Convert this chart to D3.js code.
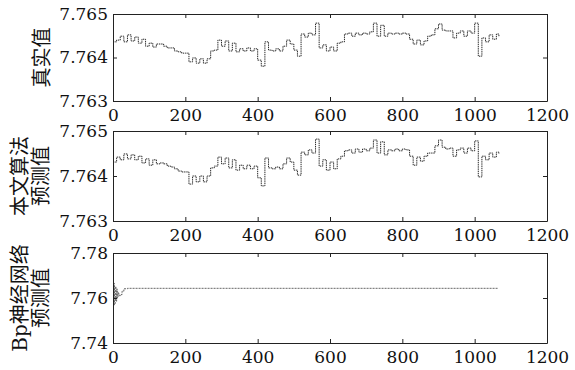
<!DOCTYPE html>
<html>
<head>
<meta charset="utf-8">
<script src="https://cdn.jsdelivr.net/npm/d3@7"></script>
<style>
  body { margin: 0; background: #fff; }
  svg text { font-family: "DejaVu Serif", "Noto Sans CJK SC", serif; }
</style>
</head>
<body>
<div id="chart"></div>
<script>
// x ticks shared by all three panels
const xTicks = [0, 200, 400, 600, 800, 1000, 1200];

// sample index of the values (every 10th point, plus the last one)
const sampleIdx = d3.range(0, 1070, 10).concat([1067]);

// 真实值 (real values)
const realVals = [
  7.76436, 7.76440, 7.76449, 7.76436, 7.76452, 7.76438, 7.76447, 7.76433, 7.76442, 7.76426,
  7.76433, 7.76424, 7.76431, 7.76431, 7.76426, 7.76422, 7.76422, 7.76415, 7.76413, 7.76410,
  7.76410, 7.76390, 7.76399, 7.76387, 7.76397, 7.76387, 7.76397, 7.76415, 7.76417, 7.76440,
  7.76426, 7.76438, 7.76415, 7.76433, 7.76413, 7.76420, 7.76415, 7.76422, 7.76415, 7.76420,
  7.76394, 7.76380, 7.76436, 7.76417, 7.76415, 7.76420, 7.76415, 7.76426, 7.76440, 7.76431,
  7.76417, 7.76403, 7.76454, 7.76447, 7.76456, 7.76452, 7.76479, 7.76422, 7.76429, 7.76415,
  7.76424, 7.76415, 7.76433, 7.76436, 7.76454, 7.76456, 7.76449, 7.76456, 7.76452, 7.76456,
  7.76454, 7.76459, 7.76479, 7.76449, 7.76474, 7.76449, 7.76456, 7.76454, 7.76456, 7.76454,
  7.76456, 7.76454, 7.76442, 7.76431, 7.76440, 7.76429, 7.76438, 7.76449, 7.76452, 7.76466,
  7.76477, 7.76463, 7.76461, 7.76461, 7.76445, 7.76456, 7.76461, 7.76449, 7.76461, 7.76456,
  7.76479, 7.76403, 7.76445, 7.76436, 7.76452, 7.76442, 7.76454, 7.76447
];

// 本文算法预测值 (proposed method prediction)
const oursVals = [
  7.76431, 7.76442, 7.76436, 7.76449, 7.76438, 7.76447, 7.76436, 7.76444, 7.76429, 7.76438,
  7.76424, 7.76436, 7.76427, 7.76429, 7.76427, 7.76422, 7.76420, 7.76416, 7.76411, 7.76409,
  7.76409, 7.76382, 7.76400, 7.76387, 7.76400, 7.76387, 7.76400, 7.76418, 7.76422, 7.76442,
  7.76427, 7.76440, 7.76418, 7.76436, 7.76413, 7.76424, 7.76416, 7.76424, 7.76416, 7.76422,
  7.76396, 7.76378, 7.76440, 7.76418, 7.76416, 7.76420, 7.76416, 7.76427, 7.76440, 7.76431,
  7.76413, 7.76402, 7.76453, 7.76447, 7.76458, 7.76451, 7.76482, 7.76422, 7.76436, 7.76413,
  7.76431, 7.76416, 7.76438, 7.76444, 7.76456, 7.76458, 7.76451, 7.76460, 7.76453, 7.76460,
  7.76456, 7.76462, 7.76480, 7.76451, 7.76476, 7.76447, 7.76458, 7.76456, 7.76460, 7.76456,
  7.76460, 7.76458, 7.76444, 7.76424, 7.76442, 7.76433, 7.76444, 7.76451, 7.76451, 7.76467,
  7.76480, 7.76464, 7.76460, 7.76462, 7.76444, 7.76458, 7.76462, 7.76451, 7.76462, 7.76456,
  7.76478, 7.76398, 7.76444, 7.76436, 7.76451, 7.76442, 7.76453, 7.76449
];

// Bp神经网络预测值 (BP network prediction)
const bpIdx = [0, 2, 4, 6, 8, 10, 12, 14, 16, 18, 20, 25, 30, 40, 100, 200, 300, 400, 500, 600, 700, 800, 900, 1000, 1064];
const bpVals = [7.7600, 7.7665, 7.7570, 7.7650, 7.7585, 7.7640, 7.7600, 7.7625, 7.7615, 7.7610, 7.7615, 7.7630, 7.7641,
  7.7643, 7.7643, 7.7643, 7.7643, 7.7643, 7.7643, 7.7643, 7.7643, 7.7643, 7.7643, 7.7643, 7.7643];

const realTicks = [7.763, 7.764, 7.765];
const bpTicks = [7.74, 7.76, 7.78];

const width = 575, height = 370;
const left = 113, right = 547;

const panels = [
  { top: 14, bottom: 101, domain: [7.763, 7.765], ticks: realTicks, fmt: '.3f',
    label: ['真实值'], labelX: [42], idx: sampleIdx, vals: realVals, stroke: '#111', dash: '1.4,0.8' },
  { top: 131, bottom: 221, domain: [7.763, 7.765], ticks: realTicks, fmt: '.3f',
    label: ['本文算法', '预测值'], labelX: [20, 41], idx: sampleIdx, vals: oursVals, stroke: '#111', dash: '1.4,0.8' },
  { top: 253, bottom: 343, domain: [7.74, 7.78], ticks: bpTicks, fmt: '.2f',
    label: ['Bp神经网络', '预测值'], labelX: [20, 41], idx: bpIdx, vals: bpVals, stroke: '#555', dash: '2,1' }
];

const svg = d3.select('#chart').append('svg')
  .attr('width', width)
  .attr('height', height)
  .style('background', '#fff');

const x = d3.scaleLinear().domain([0, 1200]).range([left, right]);

panels.forEach(p => {
  const y = d3.scaleLinear().domain(p.domain).range([p.bottom, p.top]);
  const g = svg.append('g');

  // series
  const line = d3.line()
    .x(d => x(d[0]))
    .y(d => y(d[1]))
    .curve(d3.curveStepAfter);

  g.append('path')
    .datum(p.idx.map((v, i) => [v, p.vals[i]]))
    .attr('fill', 'none')
    .attr('stroke', p.stroke)
    .attr('stroke-width', 0.9)
    .attr('stroke-dasharray', p.dash)
    .attr('d', line);

  const styleAxis = sel => {
    sel.select('.domain').attr('stroke', '#222');
    sel.selectAll('.tick line').attr('stroke', '#222');
    sel.selectAll('text').attr('fill', '#111').style('font-size', '17px');
  };

  // box with inward ticks
  g.append('g')
    .attr('transform', `translate(0,${p.bottom})`)
    .call(d3.axisBottom(x).tickValues(xTicks).tickFormat(d3.format('d'))
      .tickSizeInner(-4).tickSizeOuter(0).tickPadding(8))
    .call(styleAxis);

  g.append('g')
    .attr('transform', `translate(0,${p.top})`)
    .call(d3.axisTop(x).tickValues(xTicks).tickFormat('')
      .tickSizeInner(-4).tickSizeOuter(0))
    .call(styleAxis);

  g.append('g')
    .attr('transform', `translate(${left},0)`)
    .call(d3.axisLeft(y).tickValues(p.ticks).tickFormat(d3.format(p.fmt))
      .tickSizeInner(-4).tickSizeOuter(0).tickPadding(5))
    .call(styleAxis);

  g.append('g')
    .attr('transform', `translate(${right},0)`)
    .call(d3.axisRight(y).tickValues(p.ticks).tickFormat('')
      .tickSizeInner(-4).tickSizeOuter(0))
    .call(styleAxis);

  // rotated y label
  const mid = (p.top + p.bottom) / 2;
  p.label.forEach((t, i) => {
    svg.append('text')
      .attr('transform', `translate(${p.labelX[i]},${mid}) rotate(-90)`)
      .attr('text-anchor', 'middle')
      .attr('dominant-baseline', 'central')
      .style('font-size', '20px')
      .attr('fill', '#111')
      .text(t);
  });
});
</script>
</body>
</html>
